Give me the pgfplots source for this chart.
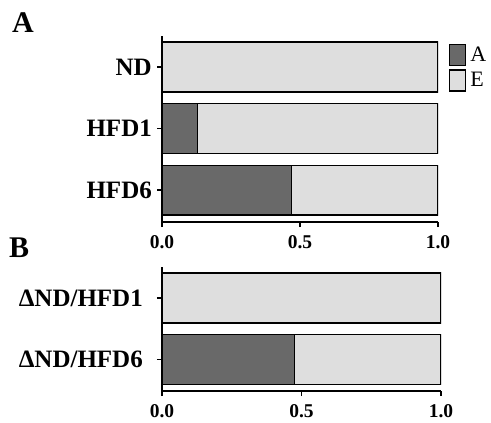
\documentclass[border=0pt]{standalone}
\usepackage{fontspec}
\setmainfont{Liberation Serif}
\usepackage{pgfplots}
\pgfplotsset{compat=1.18}
\definecolor{darkbar}{HTML}{696969}
\definecolor{lightbar}{HTML}{DEDEDE}
\pgfplotsset{
  mystyle/.style={
    xbar stacked,
    scale only axis,
    xmin=0, xmax=1,
    axis x line*=bottom,
    axis y line*=left,
    axis line style={line width=1.2bp},
    tick style={line width=1.2bp, black},
    tick align=outside,
    major tick length=5bp,
    xtick={0,0.5,1},
    xticklabels={0.0,0.5,1.0},
    /pgf/number format/assume math mode=true,
    xticklabel style={font=\fontsize{19.5bp}{22bp}\selectfont\bfseries, inner sep=0pt, yshift=-8bp},
    yticklabel style={font=\fontsize{25bp}{28bp}\selectfont\bfseries, inner sep=0pt},
    bar width=0.81,
    every axis plot/.append style={draw=black, line width=1.2bp},
  }
}
\begin{document}
\begin{tikzpicture}
\useasboundingbox (0,0) rectangle (491bp,-423bp);
\node[anchor=base west, font=\fontsize{30bp}{32bp}\selectfont\bfseries, inner sep=0pt] at (12bp,-32bp) {A};
\node[anchor=base west, font=\fontsize{30bp}{32bp}\selectfont\bfseries, inner sep=0pt] at (9bp,-257bp) {B};
\begin{axis}[mystyle,
  at={(162bp,-222bp)}, anchor=south west,
  width=276bp, height=186bp,
  ymin=-0.52, ymax=2.504,
  yticklabel style={xshift=-5bp},
  ytick={0,1,2}, yticklabels={HFD6,HFD1,ND\hspace{10bp}},
  legend style={at={(1.04,0.957)}, anchor=north west, draw=none, fill=none,
    inner sep=0pt, font=\fontsize{22bp}{24bp}\selectfont, row sep=3bp,
    cells={anchor=west}, nodes={inner xsep=4bp}},
  legend image code/.code={\draw[#1] (0bp,-10.5bp) rectangle (16bp,10.5bp);},
  legend cell align=left,
]
\addplot[fill=darkbar] coordinates {(0.47,0) (0.13,1) (0,2)};
\addlegendentry{A}
\addplot[fill=lightbar] coordinates {(0.53,0) (0.87,1) (1,2)};
\addlegendentry{E}
\end{axis}
\begin{axis}[mystyle,
  at={(162bp,-391bp)}, anchor=south west,
  width=279bp, height=124bp,
  ymin=-0.512, ymax=1.504,
  yticklabel style={xshift=-14bp},
  ytick={0,1}, yticklabels={ΔND/HFD6,ΔND/HFD1},
]
\addplot[fill=darkbar] coordinates {(0.475,0) (0,1)};
\addplot[fill=lightbar] coordinates {(0.525,0) (1,1)};
\end{axis}
\end{tikzpicture}
\end{document}
